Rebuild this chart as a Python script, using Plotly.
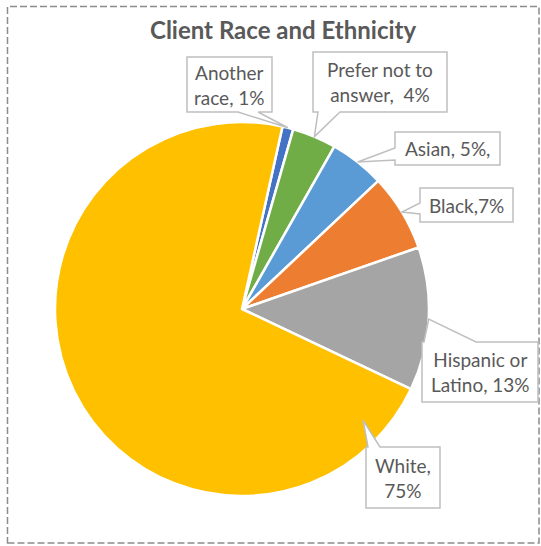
import math
import plotly.graph_objects as go

# ---- data ----
categories = ["Another race", "Prefer not to answer", "Asian", "Black",
              "Hispanic or Latino", "White"]
shares = [1, 4, 5, 7, 13, 75]
label_texts = ["Another<br>race, 1%", "Prefer not to<br>answer,  4%", "Asian, 5%,",
               "Black,7%", "Hispanic or<br>Latino, 13%", "White,<br>75%"]
colors = ["#4472C4", "#70AD47", "#5B9BD5", "#ED7D31", "#A5A5A5", "#FFC000"]

# ---- layout constants (pixels) ----
W, H = 541, 546
CX, CY, R = 242, 309, 187
ROTATION = 12.5
TEXT_COLOR = "#595959"
BOX_LINE = "#BFBFBF"
FONT = "Lato, Carlito, Calibri, sans-serif"

# callout boxes: (x0, y0, x1, y1), side of pointer, pointer base (a, b)
boxes = [
    ((187, 57, 272, 112), "bottom", (238, 258)),
    ((313, 52, 447, 112), "bottom", (318, 340)),
    ((395, 132, 500, 165), "left", (148, 160)),
    ((420, 188, 513, 222), "left", (203, 214)),
    ((422, 342, 538, 402), "top", (424, 476)),
    ((366, 447, 440, 508), "top", (368, 380)),
]
# where each pointer touches its slice: (fraction along slice, fraction of radius)
anchors = [(0.5, 1.0), (0.5, 1.0), (0.5, 1.0), (0.5, 1.0), (0.5, 1.0), (0.067, 0.88)]


def px(x):
    return x / W


def py(y):
    return 1 - y / H


def slice_point(i, frac, rfrac):
    total = sum(shares)
    start = ROTATION + 360 * sum(shares[:i]) / total
    ang = math.radians(start + 360 * shares[i] / total * frac)
    return CX + R * rfrac * math.sin(ang), CY - R * rfrac * math.cos(ang)


def callout_path(box, side, base, tip):
    x0, y0, x1, y1 = box
    a, b = base
    if side == "bottom":
        pts = [(x0, y0), (x1, y0), (x1, y1), (b, y1), tip, (a, y1), (x0, y1)]
    elif side == "top":
        pts = [(x0, y0), (a, y0), tip, (b, y0), (x1, y0), (x1, y1), (x0, y1)]
    else:  # left
        pts = [(x0, y0), (x1, y0), (x1, y1), (x0, y1), (x0, b), tip, (x0, a)]
    return "M " + " L ".join(f"{px(x):.5f},{py(y):.5f}" for x, y in pts) + " Z"


fig = go.Figure(go.Pie(
    labels=categories,
    values=shares,
    sort=False,
    direction="clockwise",
    rotation=ROTATION,
    marker=dict(colors=colors, line=dict(color="white", width=2.5)),
    textinfo="none",
    hoverinfo="label+value",
    showlegend=False,
    domain=dict(x=[px(CX - R), px(CX + R)], y=[py(CY + R), py(CY - R)]),
))

shapes = [dict(type="rect", xref="paper", yref="paper",
               x0=px(7.5), y0=py(543), x1=px(539), y1=py(6.5),
               line=dict(color="#8C8C8C", width=1.5, dash="7px,3px"),
               fillcolor="rgba(0,0,0,0)")]
annotations = [dict(text="<b>Client Race and Ethnicity</b>", x=px(283), y=py(29),
                    xref="paper", yref="paper", showarrow=False,
                    xanchor="center", yanchor="middle",
                    font=dict(family=FONT, size=24, color=TEXT_COLOR))]

for i, (box, side, base) in enumerate(boxes):
    tip = slice_point(i, *anchors[i])
    shapes.append(dict(type="path", xref="paper", yref="paper",
                       path=callout_path(box, side, base, tip),
                       fillcolor="white", line=dict(color=BOX_LINE, width=1.5)))
    x0, y0, x1, y1 = box
    annotations.append(dict(text=label_texts[i], x=px((x0 + x1) / 2), y=py((y0 + y1) / 2),
                            xref="paper", yref="paper", showarrow=False,
                            xanchor="center", yanchor="middle",
                            font=dict(family=FONT, size=19, color=TEXT_COLOR)))

fig.update_layout(
    width=W, height=H,
    margin=dict(l=0, r=0, t=0, b=0),
    paper_bgcolor="white",
    shapes=shapes,
    annotations=annotations,
)

fig.write_html("out.html")
